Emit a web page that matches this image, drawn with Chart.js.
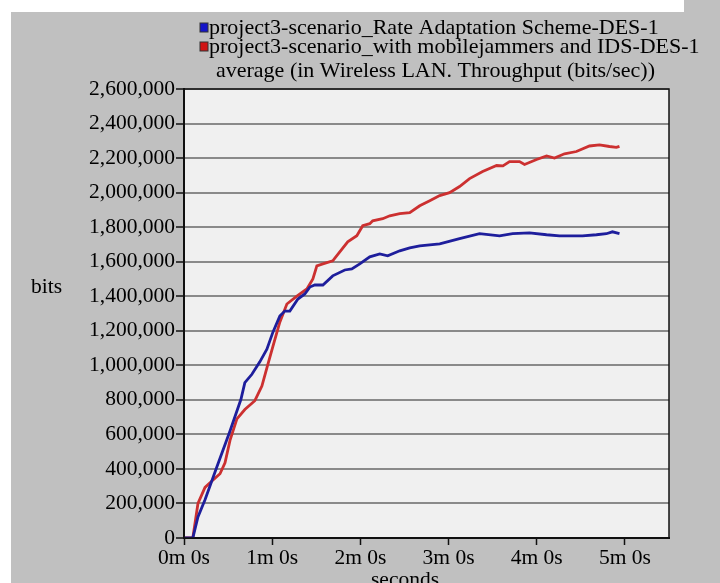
<!DOCTYPE html>
<html>
<head>
<meta charset="utf-8">
<script src="https://cdn.jsdelivr.net/npm/chart.js@4"></script>
<style>
  body { margin: 0; background: #fff; }
  canvas { display: block; }
</style>
</head>
<body>
<canvas id="chart" width="720" height="583"></canvas>
<script>
// series names (legend) and chart texts
const seriesNames = [
  "project3-scenario_Rate Adaptation Scheme-DES-1",
  "project3-scenario_with mobilejammers and IDS-DES-1"
];
const titleText = "average (in Wireless LAN. Throughput (bits/sec))";
const yTitle = "bits";
const xTitle = "seconds";

// tick values
const xTicks = [0, 60, 120, 180, 240, 300]; // seconds
const yTicks = [0, 200000, 400000, 600000, 800000, 1000000, 1200000, 1400000,
  1600000, 1800000, 2000000, 2200000, 2400000, 2600000];

// Rate Adaptation Scheme (blue) - time [s], throughput [bits/sec]
const blueT = [0, 6, 9.5, 14.3, 22.4, 31.3, 38.7, 41.4, 46.2, 51.6, 56.4, 60.5, 65.2,
  68.6, 72, 77.5, 82.2, 85.6, 89, 94.5, 101.2, 109.4, 114.2, 119.6, 126.4, 133.2,
  138.6, 146.8, 153.6, 160.4, 174, 187.5, 201.1, 214.7, 223.6, 235.1, 246.7,
  255.5, 271.1, 280.6, 287.4, 291.5, 296.3];
const blueV = [0, 0, 122000, 221000, 413000, 620000, 802000, 900000, 948000, 1020000,
  1093000, 1192000, 1285000, 1314000, 1314000, 1384000, 1413000, 1453000, 1465000,
  1465000, 1518000, 1552000, 1558000, 1587000, 1628000, 1645000, 1634000, 1663000,
  1680000, 1692000, 1703000, 1733000, 1762000, 1750000, 1762000, 1767000, 1756000,
  1750000, 1750000, 1756000, 1762000, 1773000, 1762000];

// with mobile jammers and IDS (red)
const redT = [0, 6, 9.5, 14.3, 19, 24.5, 27.9, 31.3, 36, 41.4, 48.2, 53, 56.4, 60.5,
  65.2, 70, 76.8, 83.6, 87.7, 90.4, 94.5, 101.2, 106, 111.4, 117.6, 121.6, 126.4,
  128.4, 135.2, 140, 146.8, 153.6, 160.4, 167.2, 174, 180.7, 187.5, 194.3, 203.2,
  212.7, 217, 221.5, 228.3, 231.7, 239.9, 246.7, 252.1, 258.9, 267, 275.9, 282.7,
  289.5, 294.2, 296.3];
const redV = [0, 0, 200000, 293000, 330000, 372000, 436000, 565000, 690000, 744000,
  795000, 880000, 985000, 1110000, 1250000, 1355000, 1401000, 1442000, 1500000,
  1576000, 1587000, 1605000, 1657000, 1715000, 1750000, 1808000, 1820000, 1837000,
  1849000, 1866000, 1878000, 1884000, 1924000, 1953000, 1983000, 2000000, 2035000,
  2081000, 2122000, 2157000, 2155000, 2180000, 2180000, 2163000, 2192000, 2212000,
  2200000, 2225000, 2238000, 2270000, 2276000, 2267000, 2262000, 2268000];

const blueColor = "#1e1e9c";
const redColor = "#cc3030";
const serif = "'Liberation Serif', 'Times New Roman', serif";

function toPoints(ts, vs) {
  return ts.map((t, i) => ({ x: t, y: vs[i] }));
}

const frame = {
  id: "frame",
  beforeDraw(chart) {
    const c = chart.ctx;
    const a = chart.chartArea;
    c.save();
    c.fillStyle = "#fff";
    c.fillRect(0, 0, chart.width, chart.height);
    c.fillStyle = "#c0c0c0";
    c.fillRect(11, 12, chart.width - 11, chart.height - 12);
    c.fillRect(684, 0, chart.width - 684, 12);
    c.fillStyle = "#f0f0f0";
    c.fillRect(a.left, a.top, a.right - a.left, a.bottom - a.top);
    c.restore();
  },
  afterDraw(chart) {
    const c = chart.ctx;
    const a = chart.chartArea;
    c.save();
    c.strokeStyle = "#111";
    c.lineWidth = 1.5;
    c.strokeRect(a.left, a.top, a.right - a.left, a.bottom - a.top);

    c.fillStyle = "#000";
    c.font = "22px " + serif;
    c.textBaseline = "middle";
    c.textAlign = "left";
    const sq = ["#1414c8", "#d01414"];
    seriesNames.forEach((name, i) => {
      const y = 28 + i * 19;
      c.fillStyle = sq[i];
      c.fillRect(200, y - 5, 8, 9);
      c.strokeStyle = "#333";
      c.lineWidth = 1;
      c.strokeRect(200, y - 5, 8, 9);
      c.fillStyle = "#000";
      c.fillText(name, 209, y);
    });
    c.fillText(titleText, 216, 71);

    c.font = "21.5px " + serif;
    c.fillText(yTitle, 31, 287);
    c.textAlign = "center";
    c.textBaseline = "alphabetic";
    c.fillText(xTitle, 405, 586);
    c.restore();
  }
};

new Chart(document.getElementById("chart"), {
  type: "line",
  data: {
    datasets: [
      { label: seriesNames[0], data: toPoints(blueT, blueV), borderColor: blueColor,
        borderWidth: 2.8, pointRadius: 0, tension: 0 },
      { label: seriesNames[1], data: toPoints(redT, redV), borderColor: redColor,
        borderWidth: 2.8, pointRadius: 0, tension: 0 }
    ]
  },
  options: {
    responsive: false,
    devicePixelRatio: 1,
    animation: false,
    layout: { padding: { left: 0, top: 89, right: 51, bottom: 0 } },
    plugins: { legend: { display: false }, tooltip: { enabled: false } },
    scales: {
      x: {
        type: "linear",
        min: 0,
        max: 330,
        afterBuildTicks: (s) => { s.ticks = xTicks.map(v => ({ value: v })); },
        afterFit: (s) => { s.height = 45; },
        ticks: {
          color: "#000",
          font: { family: serif, size: 21.5 },
          padding: 0,
          maxRotation: 0,
          autoSkip: false,
          callback: (v) => (v / 60) + "m 0s"
        },
        grid: { drawOnChartArea: false, drawTicks: true, tickLength: 7, tickColor: "#111", tickWidth: 1.5 },
        border: { display: true, color: "#111", width: 2 }
      },
      y: {
        min: 0,
        max: 2600000,
        afterBuildTicks: (s) => { s.ticks = yTicks.map(v => ({ value: v })); },
        afterFit: (s) => { s.width = 184; },
        ticks: {
          color: "#000",
          font: { family: serif, size: 21.5 },
          padding: 1,
          autoSkip: false,
          callback: (v) => v.toLocaleString("en-US")
        },
        grid: { color: "#8a8a8a", lineWidth: 2, drawTicks: true, tickLength: 8, tickColor: "#111", tickWidth: 1.5 },
        border: { display: true, color: "#111", width: 2 }
      }
    }
  },
  plugins: [frame]
});
</script>
</body>
</html>
